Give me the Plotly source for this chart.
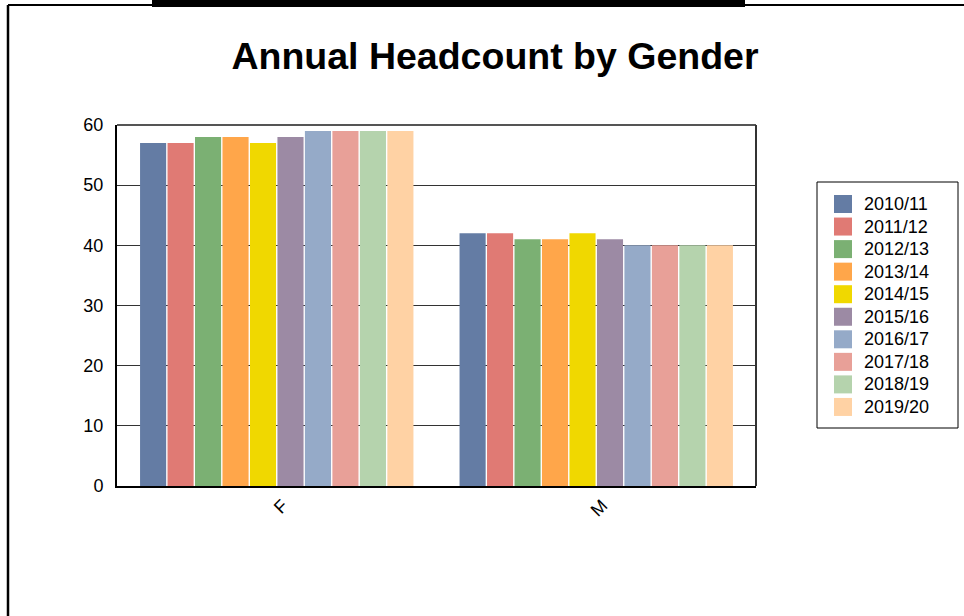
import plotly.graph_objects as go

categories = ["F", "M"]
years = ["2010/11", "2011/12", "2012/13", "2013/14", "2014/15",
         "2015/16", "2016/17", "2017/18", "2018/19", "2019/20"]
f_values = [57, 57, 58, 58, 57, 58, 59, 59, 59, 59]
m_values = [42, 42, 41, 41, 42, 41, 40, 40, 40, 40]
colors = ["#647CA4", "#E07A74", "#7BB073", "#FFA64A", "#F0D800",
          "#9C8AA4", "#95AAC8", "#E8A098", "#B5D3AD", "#FFD2A4"]

FONT = "Liberation Sans, Arial, sans-serif"

fig = go.Figure()
for i, y in enumerate(years):
    fig.add_trace(go.Bar(
        name=y, x=categories, y=[f_values[i], m_values[i]],
        marker=dict(color=colors[i], line=dict(width=0)),
        showlegend=False,
    ))

W, H = 964, 616
L, R, T, B = 117, 208, 125, 130
pw, ph = W - L - R, H - T - B

def px(x):
    return (x - L) / pw

def py(y):
    return (H - B - y) / ph

shapes = [
    # top and right plot border
    dict(type="line", xref="paper", yref="paper", x0=0, y0=1, x1=1, y1=1,
         line=dict(color="#555555", width=2)),
    dict(type="line", xref="paper", yref="paper", x0=1, y0=0, x1=1, y1=1,
         line=dict(color="#333333", width=2)),
    # outer frame
    dict(type="rect", xref="paper", yref="paper", x0=px(152), x1=px(745),
         y0=py(7), y1=py(0), fillcolor="black", line=dict(width=0)),
    dict(type="line", xref="paper", yref="paper", x0=px(8), x1=px(964),
         y0=py(5), y1=py(5), line=dict(color="black", width=2)),
    dict(type="line", xref="paper", yref="paper", x0=px(8), x1=px(8),
         y0=py(5), y1=py(616), line=dict(color="black", width=2.5)),
    # legend box
    dict(type="rect", xref="paper", yref="paper", x0=px(817), x1=px(958),
         y0=py(428), y1=py(182), fillcolor="rgba(0,0,0,0)",
         line=dict(color="black", width=1)),
]
annotations = []
row0, step = 204, 22.55
for i, y in enumerate(years):
    cy = row0 + step * i
    shapes.append(dict(type="rect", xref="paper", yref="paper",
                       x0=px(834), x1=px(852), y0=py(cy + 9), y1=py(cy - 9),
                       fillcolor=colors[i], line=dict(width=0)))
    annotations.append(dict(text=y, xref="paper", yref="paper",
                            x=px(862), y=py(cy), xanchor="left",
                            yanchor="middle", showarrow=False,
                            font=dict(family=FONT, size=18, color="black")))

fig.update_layout(
    width=W, height=H,
    margin=dict(l=L, r=R, t=T, b=B, autoexpand=False),
    paper_bgcolor="white", plot_bgcolor="white",
    font=dict(family=FONT, color="black", size=18),
    title=dict(text="<b>Annual Headcount by Gender</b>",
               font=dict(family=FONT, size=37.5, color="black"),
               x=495 / W, xref="container", xanchor="center",
               y=1 - 56 / H, yref="container", yanchor="middle"),
    barmode="group", bargap=0.14, bargroupgap=0.05,
    shapes=shapes,
    annotations=annotations,
)
fig.update_xaxes(showline=True, linecolor="black", linewidth=2,
                 showgrid=False, tickangle=-45, ticks="",
                 tickfont=dict(size=18), ticklabelstandoff=0,
                 ticklabelshift=6)
fig.update_yaxes(range=[0, 60], dtick=10, showline=True, linecolor="black",
                 linewidth=2, showgrid=True, gridcolor="#333333", gridwidth=1,
                 zeroline=False, ticks="", ticklabelstandoff=8,
                 tickfont=dict(size=18))

fig.write_html("out.html",
               config={"displayModeBar": False},
               post_script="document.body.style.margin='0';"
                           "document.documentElement.style.overflow='hidden';")
